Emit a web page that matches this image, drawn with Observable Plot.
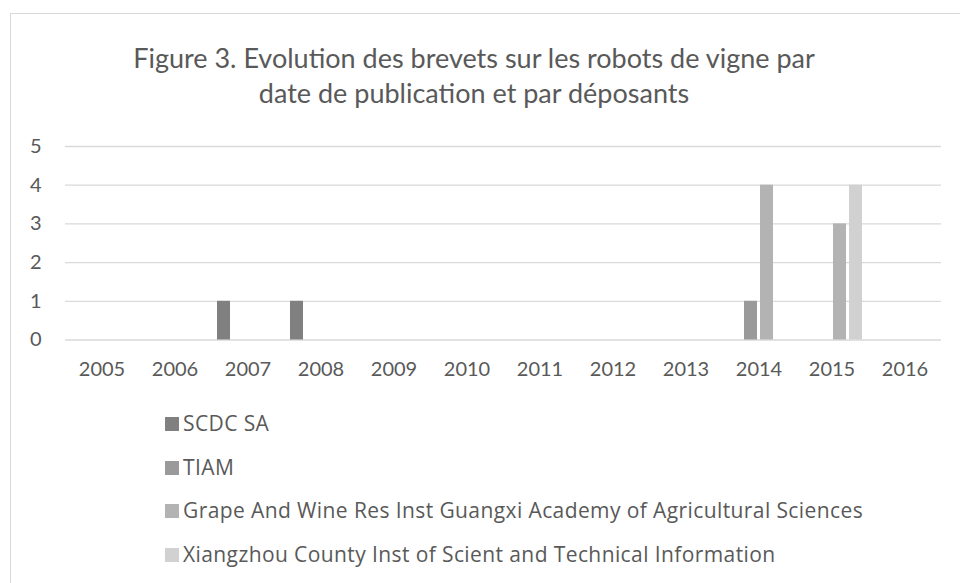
<!DOCTYPE html>
<html><head><meta charset="utf-8">
<script src="https://cdn.jsdelivr.net/npm/d3@7"></script>
<script src="https://cdn.jsdelivr.net/npm/@observablehq/plot@0.6"></script>
<style>
html,body{margin:0;padding:0;background:#fff;overflow:hidden;width:960px;height:583px;}
#frame{position:absolute;left:10px;top:13px;width:1000px;height:620px;border:1px solid #d9d9d9;box-sizing:border-box;}
#title{position:absolute;left:0;top:40px;width:948px;text-align:center;font-family:Lato,"Open Sans",sans-serif;font-size:27px;color:#595959;line-height:35px;white-space:nowrap;}
#chart{position:absolute;left:0;top:120px;}
#legend{position:absolute;left:165px;top:402px;font-family:"Open Sans",Lato,sans-serif;font-size:21px;letter-spacing:0.4px;color:#595959;}
#legend .row{height:43.5px;line-height:43.5px;white-space:nowrap;}
#legend .sw{display:inline-block;width:14px;height:14px;margin-right:4px;}
</style></head>
<body>
<div id="frame"></div>
<div id="title">Figure 3. Evolution des brevets sur les robots de vigne par<br>date de publication et par déposants</div>
<div id="chart"></div>
<div id="legend"></div>
<script>
const years = ["2005","2006","2007","2008","2009","2010","2011","2012","2013","2014","2015","2016"];
const seriesNames = ["SCDC SA","TIAM","Grape And Wine Res Inst Guangxi Academy of Agricultural Sciences","Xiangzhou County Inst of Scient and Technical Information"];
const scdcSA    = [0,0,1,1,0,0,0,0,0,0,0,0];
const tiam      = [0,0,0,0,0,0,0,0,0,1,0,0];
const grapeWine = [0,0,0,0,0,0,0,0,0,4,3,0];
const xiangzhou = [0,0,0,0,0,0,0,0,0,0,4,0];
const yTicks = [0,1,2,3,4,5];
const seriesColors = ["#808080","#9a9a9a","#b3b3b3","#d1d1d1"];

const seriesValues = [scdcSA, tiam, grapeWine, xiangzhou];
const rows = years.flatMap((yr, i) => seriesNames.map((s, j) => ({year: yr, series: s, value: seriesValues[j][i]})));

const chart = Plot.plot({
  width: 960,
  height: 260,
  marginLeft: 62,
  marginRight: 17,
  marginTop: 26,
  marginBottom: 40.5,
  style: {fontFamily: "Lato, 'Open Sans', sans-serif", fontSize: "20px", color: "#595959", background: "transparent", overflow: "visible"},
  fx: {domain: years, padding: 0, label: null, tickSize: 0, tickPadding: 22},
  x: {domain: seriesNames, paddingInner: 0.18, paddingOuter: 0.315, axis: null},
  y: {domain: [0, 5], ticks: yTicks, tickSize: 0, tickPadding: 24, label: null, tickFormat: d => String(d)},
  color: {domain: seriesNames, range: seriesColors},
  marks: [
    Plot.ruleY(yTicks, {stroke: "#d9d9d9", strokeWidth: 1.3}),
    Plot.barY(rows, {fx: "year", x: "series", y: "value", fill: "series"})
  ]
});
document.getElementById("chart").appendChild(chart);

const legend = document.getElementById("legend");
seriesNames.forEach((s, j) => {
  const row = document.createElement("div");
  row.className = "row";
  const sw = document.createElement("span");
  sw.className = "sw";
  sw.style.background = seriesColors[j];
  row.appendChild(sw);
  row.appendChild(document.createTextNode(s));
  legend.appendChild(row);
});
</script>
</body></html>
